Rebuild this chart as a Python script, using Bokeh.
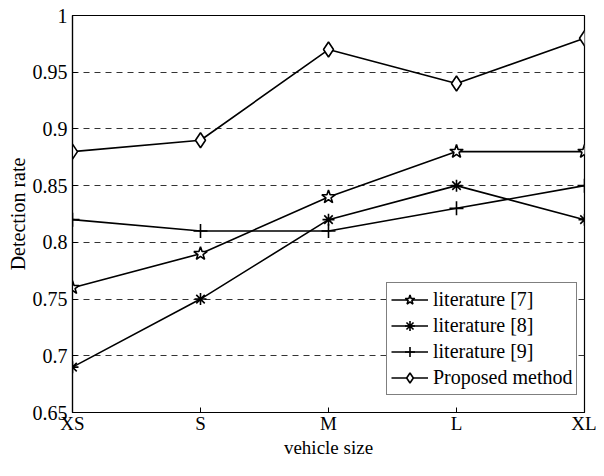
from bokeh.plotting import figure
from bokeh.models import FixedTicker, Legend, LegendItem
from bokeh.embed import file_html
from bokeh.resources import INLINE

sizes = ["XS", "S", "M", "L", "XL"]
lit7 = [0.76, 0.79, 0.84, 0.88, 0.88]
lit8 = [0.69, 0.75, 0.82, 0.85, 0.82]
lit9 = [0.82, 0.81, 0.81, 0.83, 0.85]
proposed = [0.88, 0.89, 0.97, 0.94, 0.98]
y_ticks = [0.65, 0.7, 0.75, 0.8, 0.85, 0.9, 0.95, 1.0]
y_tick_labels = ["0.65", "0.7", "0.75", "0.8", "0.85", "0.9", "0.95", "1"]
names = ["literature [7]", "literature [8]", "literature [9]", "Proposed method"]
x_title = "vehicle size"
y_title = "Detection rate"

xs = list(range(len(sizes)))
FONT = "Liberation Serif"

p = figure(width=596, height=460, x_range=(0, len(sizes) - 1), y_range=(0.65, 1.0),
           output_backend="svg", toolbar_location=None,
           min_border_left=72, min_border_right=12, min_border_top=15, min_border_bottom=42)

p.outline_line_color = "black"
p.outline_line_width = 1.2
p.background_fill_color = "white"
p.border_fill_color = "white"

p.xaxis.ticker = FixedTicker(ticks=xs)
p.xaxis.major_label_overrides = {i: s for i, s in enumerate(sizes)}
p.yaxis.ticker = FixedTicker(ticks=y_ticks)
p.yaxis.major_label_overrides = {t: l for t, l in zip(y_ticks, y_tick_labels)}

for ax in (p.xaxis[0], p.yaxis[0]):
    ax.axis_line_color = "black"
    ax.axis_line_width = 1.2
    ax.major_tick_in = 5
    ax.major_tick_out = 0
    ax.minor_tick_line_color = None
    ax.major_tick_line_color = "black"
    ax.major_label_text_font = FONT
    ax.major_label_text_font_size = "20px"
    ax.major_label_text_color = "black"
    ax.axis_label_text_font = FONT
    ax.axis_label_text_font_size = "20px"
    ax.axis_label_text_font_style = "normal"
    ax.axis_label_text_color = "black"

p.xaxis.axis_label = x_title
p.xaxis.major_label_text_font_size = "19px"
p.xaxis.axis_label_text_font_size = "19px"
p.xaxis.major_label_standoff = 0
p.xaxis.axis_label_standoff = 0
p.yaxis.axis_label = y_title
p.yaxis.major_label_standoff = 5
p.yaxis.axis_label_standoff = 1

p.xgrid.grid_line_color = None
p.ygrid.grid_line_color = "#333333"
p.ygrid.grid_line_dash = "6 5"
p.ygrid.grid_line_width = 1

items = []
series = [
    (lit7, dict(marker="star", size=14, fill_color="white")),
    (lit8, dict(marker="asterisk", size=12, fill_color="black")),
    (lit9, dict(marker="cross", size=14, fill_color="black")),
    (proposed, dict(marker="diamond", size=15, fill_color="white")),
]
for name, (vals, mk) in zip(names, series):
    ln = p.line(xs, vals, line_color="black", line_width=1.6)
    sc = p.scatter(xs, vals, line_color="black", line_width=1.6, **mk)
    items.append(LegendItem(label=name, renderers=[ln, sc]))

legend = Legend(items=items, location=(314, 17))
legend.label_text_font = FONT
legend.label_text_font_size = "20px"
legend.label_text_color = "black"
legend.glyph_width = 37
legend.glyph_height = 25
legend.label_height = 25
legend.label_standoff = 5
legend.spacing = 1
legend.padding = 4
legend.margin = 0
legend.border_line_color = "black"
legend.border_line_width = 1.2
legend.background_fill_alpha = 1
p.add_layout(legend, "center")

open("out.html", "w").write(file_html(p, INLINE))
